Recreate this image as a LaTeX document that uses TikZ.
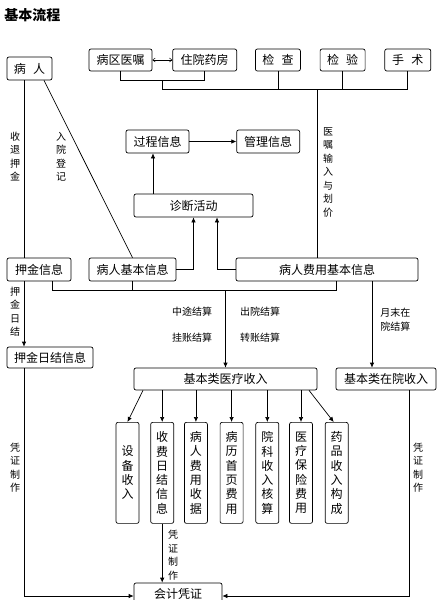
\documentclass[tikz,border=0pt]{standalone}
\usepackage{fontspec}
\setmainfont{Noto Sans CJK SC}
\usetikzlibrary{shapes,arrows.meta,positioning}
\tikzstyle{block} = [rectangle, draw, rounded corners=2pt,
    font=\fontsize{12}{14}\selectfont, minimum height=22pt, inner sep=2pt]
\tikzstyle{vblock} = [rectangle, draw, rounded corners=2pt, align=center,
    font=\fontsize{12}{14.3}\selectfont, minimum width=23pt, minimum height=101pt,
    inner sep=1pt, anchor=north]
\tikzstyle{line} = [draw, -{Latex[length=5pt,width=4.5pt]}]
\tikzstyle{tag} = [font=\fontsize{10}{13.5}\selectfont, align=center, inner sep=0pt]

\begin{document}
\begin{tikzpicture}[x=1pt, y=1pt, line width=0.7pt]
    \useasboundingbox (0,0) rectangle (445,-600);
    % Title
    \node [anchor=west, inner sep=0pt, font=\fontsize{14}{14}\selectfont\bfseries] (title) at (4,-15) {基本流程};

    % Nodes
    \node [block, minimum width=45pt, minimum height=23pt] (binren) at (29.5,-68.5) {病\hspace{0.6em}人};
    \node [block, minimum width=63pt] (bingqu) at (120.5,-60) {病区医嘱};
    \node [block, minimum width=64pt, right=20pt of bingqu] (yaofang) {住院药房};
    \node [block, minimum width=45pt, right=18pt of yaofang] (jiancha) {检\hspace{0.6em}查};
    \node [block, minimum width=45pt, right=19pt of jiancha] (jianyan) {检\hspace{0.6em}验};
    \node [block, minimum width=46pt, right=19pt of jianyan] (shoushu) {手\hspace{0.6em}术};

    \node [block, minimum width=63pt, minimum height=23pt] (guocheng) at (157.5,-141.5) {过程信息};
    \node [block, minimum width=63pt, minimum height=23pt, right=47pt of guocheng] (guanli) {管理信息};
    \node [block, minimum width=119pt, minimum height=23pt] (zhenduan) at (193.5,-205.5) {诊断活动};

    \node [block, minimum width=64pt, minimum height=23pt] (yajin) at (39,-269.5) {押金信息};
    \node [block, minimum width=87pt, minimum height=23pt] (jiben) at (132.5,-269.5) {病人基本信息};
    \node [block, minimum width=182pt, minimum height=23pt] (feiyong) at (327,-269.5) {病人费用基本信息};

    \node [block, minimum width=86pt, minimum height=21pt] (rijie) at (50,-357.5) {押金日结信息};
    \node [block, minimum width=183pt] (yiliao) at (225.5,-379) {基本类医疗收入};
    \node [block, minimum width=100pt] (zaiyuan) at (386,-379) {基本类在院收入};

    \node [vblock] (shebei) at (127.5,-422) {设\\备\\收\\入};
    \node [vblock, right=11pt of shebei.north east, anchor=north west] (rijiexx) {收\\费\\日\\结\\信\\息};
    \node [vblock, right=10pt of rijiexx.north east, anchor=north west] (shouju) {病\\人\\费\\用\\收\\据};
    \node [vblock, right=12pt of shouju.north east, anchor=north west] (shouye) {病\\历\\首\\页\\费\\用};
    \node [vblock, right=12pt of shouye.north east, anchor=north west] (hesuan) {院\\科\\收\\入\\核\\算};
    \node [vblock, right=10pt of hesuan.north east, anchor=north west] (baoxian) {医\\疗\\保\\险\\费\\用};
    \node [vblock, right=12pt of baoxian.north east, anchor=north west] (goucheng) {药\\品\\收\\入\\构\\成};

    \node [block, minimum width=88pt] (kuaiji) at (178,-594) {会计凭证};

    % Labels
    \node [tag] (tuijin) at (15,-156.5) {收\\退\\押\\金};
    \node [tag] (ruyuan) at (61,-156.5) {入\\院\\登\\记};
    \node [tag] (yizhu) at (328,-172.5) {医\\嘱\\输\\入\\与\\划\\价};
    \node [tag] (rijietag) at (15,-311.5) {押\\金\\日\\结};
    \node [tag] (zhongtu) at (192,-312) {中途结算};
    \node [tag] (chuyuan) at (260,-312) {出院结算};
    \node [tag] (guazhang) at (192,-338) {挂账结算};
    \node [tag] (zhuanzhang) at (260,-338) {转账结算};
    \node [tag, align=left, anchor=west] (yuemo) at (380,-319.5) {月末在\\院结算};
    \node [tag] (pzleft) at (15,-467.5) {凭\\证\\制\\作};
    \node [tag] (pzright) at (418,-467.5) {凭\\证\\制\\作};
    \node [tag] (pzmid) at (173,-555) {凭\\证\\制\\作};

    % Edges
    \draw [{Straight Barb[length=2.5pt,width=4pt]}-{Straight Barb[length=2.5pt,width=4pt]}, line width=0.5pt] (bingqu) -- (yaofang);
    \draw (bingqu.south) -- ++(0,-9) -| coordinate[pos=0.25] (junc) (yaofang.south);
    \draw (junc) -- ++(0,-9) coordinate (bus) -| (shoushu.south);
    \draw (jiancha.south) -- (jiancha.south |- bus);
    \draw (jianyan.south) -- (jianyan.south |- bus);
    \draw ([xshift=-10pt]feiyong.north |- bus) -- ([xshift=-10pt]feiyong.north);

    \draw ([xshift=-5.5pt]binren.south) -- ([xshift=-15pt]yajin.north);
    \draw ([xshift=14.5pt]binren.south) -- (jiben.north);

    \path [line] (guocheng) -- (guanli);
    \path [line] ([xshift=-4.5pt]guocheng.south |- zhenduan.north) -- ([xshift=-4.5pt]guocheng.south);
    \path [line] (jiben.east) -| (zhenduan.south);
    \path [line] (feiyong.west) -| ([xshift=23.5pt]zhenduan.south);

    \draw ([xshift=13pt]yajin.south) -- ++(0,-9) coordinate (settle) -| ([xshift=9pt]feiyong.south);
    \draw (jiben.south) -- (jiben.south |- settle);
    \path [line] (yiliao.north |- settle) -- (yiliao.north);
    \path [line] ([xshift=-15pt]yajin.south) -- ([xshift=-15pt]yajin.south |- rijie.north);
    \path [line] ([xshift=45pt]feiyong.south) -- ([xshift=45pt]feiyong.south |- zaiyuan.north);

    \path [line] ([xshift=-82.5pt]yiliao.south) -- (shebei.north);
    \path [line] (rijiexx.north |- yiliao.south) -- (rijiexx.north);
    \path [line] (shouju.north |- yiliao.south) -- (shouju.north);
    \path [line] (shouye.north |- yiliao.south) -- (shouye.north);
    \path [line] (hesuan.north |- yiliao.south) -- (hesuan.north);
    \path [line] (baoxian.north |- yiliao.south) -- (baoxian.north);
    \path [line] ([xshift=83.5pt]yiliao.south) -- ([xshift=-3pt]goucheng.north);

    \path [line] (rijiexx.south) -- (rijiexx.south |- kuaiji.north);
    \path [line] ([xshift=-26pt]rijie.south) |- ([yshift=-2pt]kuaiji.west);
    \path [line] ([xshift=23pt]zaiyuan.south) |- ([yshift=-2pt]kuaiji.east);
\end{tikzpicture}
\end{document}
